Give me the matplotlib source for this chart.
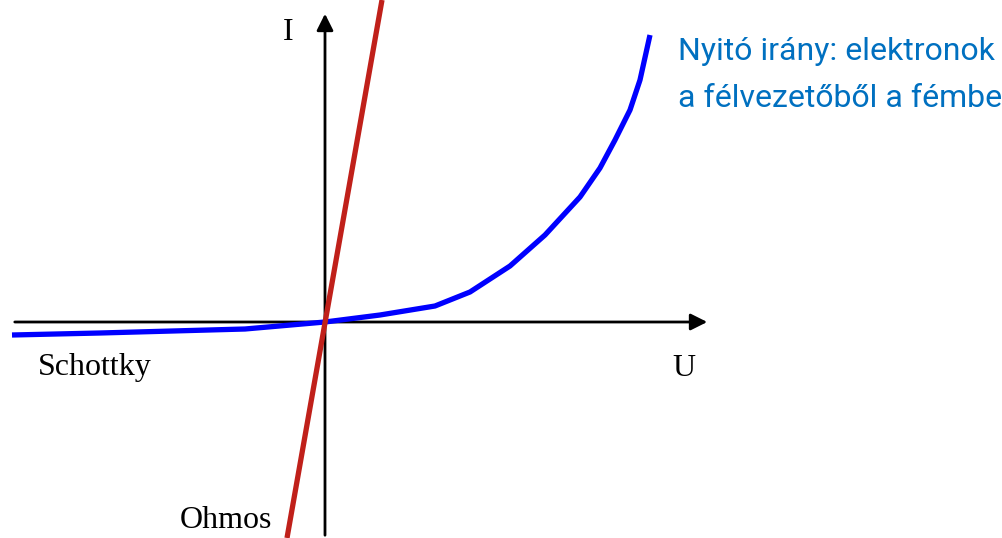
import matplotlib.pyplot as plt

# Schottky dióda karakterisztika (U, I) – önkényes egységek
schottky_u = [-313, -225, -80, 0, 55, 110, 145, 185, 220, 255, 275, 290, 305, 315, 325]
schottky_i = [-13, -11, -7, 0, 7, 16, 30, 56, 87, 125, 154, 182, 212, 242, 287]

# Ohmos kontaktus: egyenes
ohmos_u = [-38, 57]
ohmos_i = [-216, 322]

fig = plt.figure(figsize=(10.02, 5.38), dpi=100)
ax = fig.add_axes([0, 0, 1, 1])
ax.set_xlim(-325, 677)
ax.set_ylim(-216, 322)
ax.axis('off')

# tengelyek nyilakkal
ax.annotate('', xy=(385, 0), xytext=(-313, 0),
            arrowprops=dict(arrowstyle='-|>', color='black', lw=2, mutation_scale=25))
ax.annotate('', xy=(0, 311), xytext=(0, -216),
            arrowprops=dict(arrowstyle='-|>', color='black', lw=2, mutation_scale=25))

ax.plot(schottky_u, schottky_i, color='#0000ff', lw=3.8, solid_capstyle='butt', zorder=3)
ax.plot(ohmos_u, ohmos_i, color='#c0201a', lw=3.8, solid_capstyle='butt', zorder=4)

serif = dict(family='Liberation Serif', fontsize=23, color='black')
ax.text(-42, 290, 'I', ha='left', va='center', **serif)
ax.text(-287, -46, 'Schottky', ha='left', va='center', **serif)
ax.text(347, -46, 'U', ha='left', va='center', **serif)
ax.text(-145, -198, 'Ohmos', ha='left', va='center', **serif)

blue = dict(family=['Roboto', 'DejaVu Sans'], fontsize=23, color='#0070c0')
ax.text(353, 262, 'Nyitó irány: elektronok', ha='left', va='baseline', **blue)
ax.text(353, 215, 'a félvezetőből a fémbe', ha='left', va='baseline', **blue)

plt.savefig('out.png')
